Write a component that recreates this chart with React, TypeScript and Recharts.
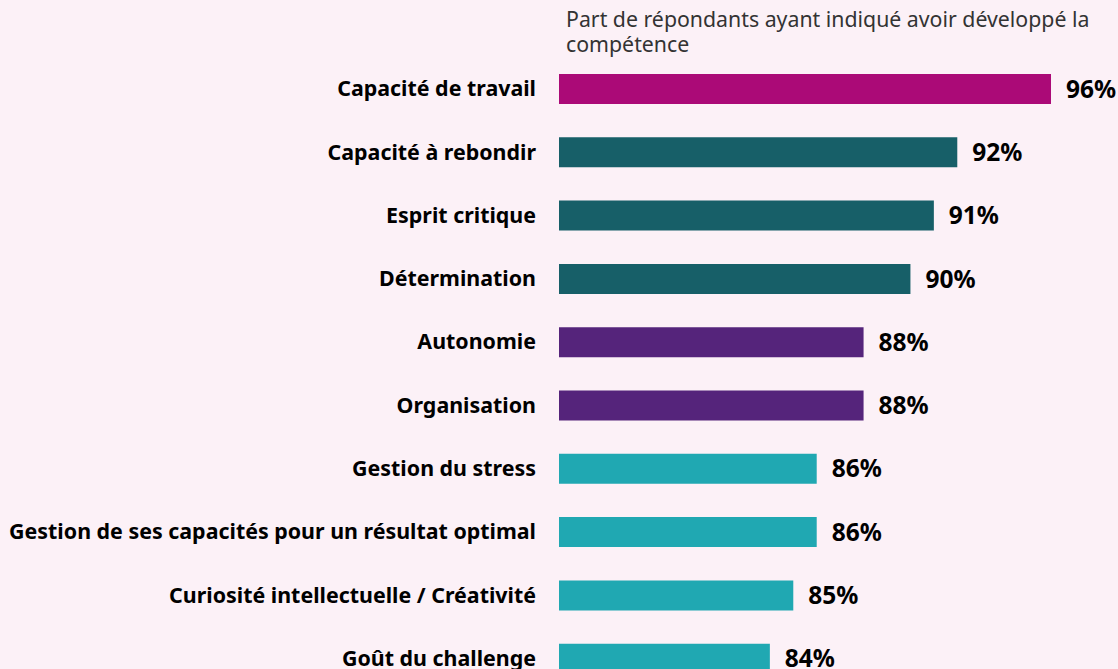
import { BarChart, Bar, XAxis, YAxis, LabelList, Cell } from 'recharts'

const competences = [
  'Capacité de travail',
  'Capacité à rebondir',
  'Esprit critique',
  'Détermination',
  'Autonomie',
  'Organisation',
  'Gestion du stress',
  'Gestion de ses capacités pour un résultat optimal',
  'Curiosité intellectuelle / Créativité',
  'Goût du challenge',
]
const shares = [96, 92, 91, 90, 88, 88, 86, 86, 85, 84]
const barColors = [
  '#ab0a77',
  '#175f68',
  '#175f68',
  '#175f68',
  '#55247b',
  '#55247b',
  '#20a8b2',
  '#20a8b2',
  '#20a8b2',
  '#20a8b2',
]

const data = competences.map((name, i) => ({ name, value: shares[i] }))

const font = '"Noto Sans", sans-serif'

export default function App() {
  return (
    <div
      style={{
        position: 'fixed',
        top: 0,
        left: 0,
        width: 1118,
        height: 669,
        overflow: 'hidden',
        background: '#fcf1f7',
        fontFamily: font,
      }}
    >
      <div
        style={{
          position: 'absolute',
          left: 566,
          top: 6,
          width: 548,
          fontSize: 21.3,
          lineHeight: '25px',
          color: '#333333',
        }}
      >
        Part de répondants ayant indiqué avoir développé la compétence
      </div>
      <BarChart
        width={1118}
        height={700}
        data={data}
        layout="vertical"
        margin={{ top: 57, right: 67, left: 0, bottom: 10 }}
        barSize={30}
      >
        <XAxis type="number" domain={[75, 96]} hide />
        <YAxis
          type="category"
          dataKey="name"
          width={559}
          axisLine={false}
          tickLine={false}
          tickSize={0}
          tickMargin={23}
          interval={0}
          tick={{ fontSize: 21.4, fontWeight: 700, fill: '#000000', fontFamily: font }}
        />
        <Bar dataKey="value" isAnimationActive={false}>
          {data.map((d, i) => (
            <Cell key={d.name} fill={barColors[i]} />
          ))}
          <LabelList
            dataKey="value"
            position="right"
            offset={15}
            formatter={(v: number) => `${v}%`}
            style={{ fontSize: 24.5, fontWeight: 700, fill: '#000000', fontFamily: font }}
          />
        </Bar>
      </BarChart>
    </div>
  )
}
